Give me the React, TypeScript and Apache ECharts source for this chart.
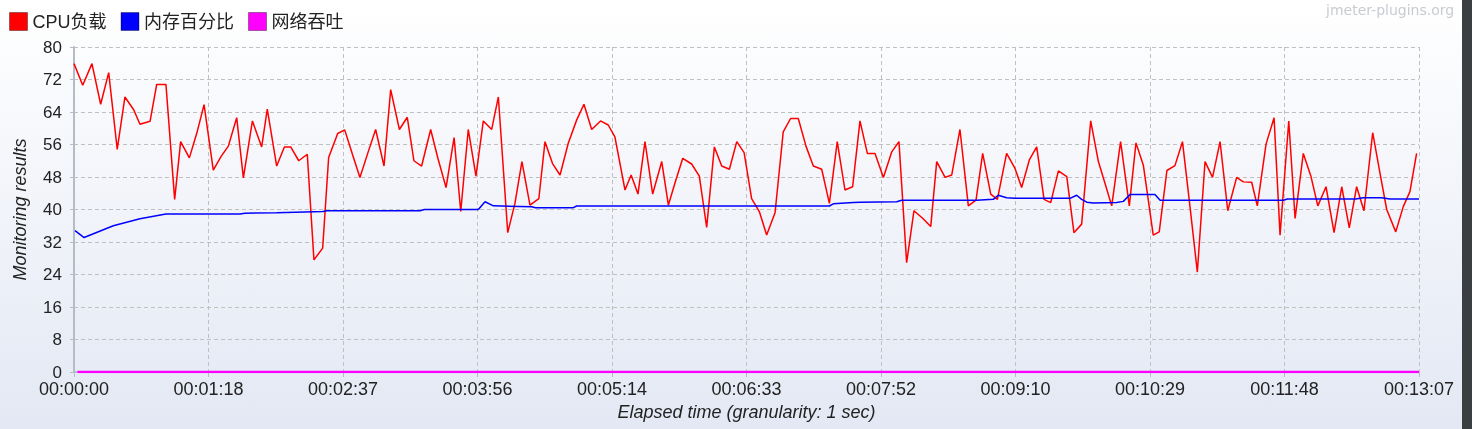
import React, { useEffect, useRef } from "react";
import * as echarts from "echarts";

const seriesNames = ["CPU负载", "内存百分比", "网络吞吐"];
const seriesColors = ["#ff0000", "#0000ff", "#ff00ff"];

const yTickMin = 0;
const yTickMax = 80;
const yTickStep = 8;
const xMaxSeconds = 787;
const xTickStep = 78.7;

const cpuTimes = [
  0, 5.1, 10.5, 15.6, 20.3, 25.3, 29.8, 35, 38.6, 44.5, 48.4, 53.8, 58.9, 62.4, 67.5, 72, 76.1, 81.5, 86, 90.3,
  95.2, 99.1, 104.4, 109.8, 113.1, 118.6, 123.1, 126.8, 131.5, 136.5, 140.4, 145.5, 149, 154.3, 158.4, 163, 167.3,
  172, 176.5, 181.4, 185.3, 190.4, 195, 198.9, 203.4, 208.7, 213, 217.7, 222.4, 226.3, 230.7, 235.2, 239.5, 244.4,
  248.3, 253.8, 258, 262.1, 266.8, 272, 275.6, 280, 284.4, 289.2, 294.1, 298.4, 302.9, 308.1, 312.6, 316.5, 322.4,
  326, 330, 334.1, 338.6, 343.9, 347.8, 352, 356.2, 361.4, 365.9, 370.2, 374.7, 379, 383.5, 387.8, 392.1, 396.5,
  401, 405.3, 410.2, 415, 419.3, 423.8, 428.3, 432.6, 437.5, 442, 446.6, 451.1, 455.6, 459.9, 464.2, 468.7, 473.6,
  478.5, 482.7, 487.2, 491.5, 496.4, 501.3, 504.8, 509.7, 513.6, 518.4, 523.3, 527.8, 531.7, 536.4, 540.3, 545.7,
  550.6, 554.5, 559, 563.3, 567.6, 571.5, 576, 580.9, 585.1, 589.6, 594.9, 599.4, 603.3, 607.2, 612.4, 617.5, 621.4,
  625.7, 631.5, 635, 639.5, 644.2, 648.6, 653, 657.3, 661.8, 666.2, 670.6, 675.1, 680.3, 684.2, 689.1, 692.4, 697.5,
  702.2, 705.7, 710.8, 714.5, 719.3, 723.8, 727.8, 732.6, 737.3, 741.8, 746.2, 750.5, 754.8, 759.9, 764.2, 768.1,
  773.4, 777.8, 781.7, 785.6,
];
const cpuValues = [
  75.9, 70.6, 75.9, 65.9, 73.7, 54.8, 67.7, 64.5, 61.0, 61.7, 70.8, 70.8, 42.5, 56.7, 52.7, 59, 65.8, 49.7, 53, 55.6,
  62.6, 47.8, 61.8, 55.4, 64.7, 50.7, 55.4, 55.4, 52.0, 53.6, 27.6, 30.5, 52.8, 58.7, 59.6, 53.5, 47.9,
  54, 59.7, 50.7, 69.5, 59.7, 62.7, 52.0, 50.7, 59.7, 52.5, 45.4, 57.7, 39.5, 59.7, 48.2, 61.8, 59.7,
  67.7, 34.3, 41.5, 51.8, 41.1, 42.7, 56.7, 51.3, 48.5, 56.3, 62.0, 65.9, 59.7, 61.8, 60.8, 57.9, 44.8,
  48.5, 43.8, 56.7, 43.8, 51.8, 41.1, 47, 52.6, 51.2, 48.2, 35.6, 55.4, 50.7, 49.9, 56.7, 54.0, 42.7,
  39.5, 33.7, 39.2, 59.1, 62.4, 62.4, 55.6, 50.7, 49.9, 41.5, 56.7, 44.8, 45.6, 61.8, 53.8, 53.8, 47.9,
  54.2, 56.7, 26.9, 39.7, 37.9, 35.8, 51.8, 47.9, 48.5, 59.7, 40.9, 42.3, 53.8, 43.8, 42.5, 53.8,
  50.1, 45.4, 52.2, 55.4, 42.5, 41.7, 49.5, 48.1, 34.3, 36.4, 61.8, 51.8, 46.4, 40.9, 56.7, 40.9, 56.4,
  50.9, 33.7, 34.5, 49.6, 50.8, 56.7, 40.7, 24.6, 51.8, 47.9, 56.7, 39.7, 47.9, 46.8, 46.7, 40.9, 56.1,
  62.6, 33.7, 61.8, 37.8, 53.8, 48.1, 40.9, 45.6, 34.3, 45.6, 35.5, 45.6, 39.7, 58.9, 48.9, 40.0,
  34.5, 40.7, 44.4, 53.8,
];

const memTimes = [
  0.6, 5.9, 23, 38.6, 53.8, 97.1, 100, 118.6, 145.7, 147.9, 202.5, 205, 236.6, 240.5, 245.4, 267.8, 270, 292.2, 294.1,
  442, 444.3, 456, 460, 481.4, 484.3, 528.2, 537.9, 540.8, 545.7, 550.6, 582.8, 586.7, 589.6, 592.6, 596.4, 610.1,
  614, 617.9, 632.5, 635.5, 707.6, 710, 750, 754.4, 765, 770, 787,
];
const memValues = [
  34.8, 33.1, 36.0, 37.7, 38.9, 38.9, 39.1, 39.2, 39.5, 39.7, 39.7, 40.0, 40.0, 41.9, 40.9, 40.7, 40.45, 40.45, 40.86,
  40.86, 41.4, 41.7, 41.8, 41.9, 42.26, 42.26, 42.5, 43.5, 42.9, 42.75, 42.75, 43.5, 42.5, 41.8, 41.6, 41.7,
  42.0, 43.7, 43.7, 42.26, 42.26, 42.6, 42.6, 42.9, 42.9, 42.6, 42.6,
];

const netTimes = [2, 54, 787];
const netValues = [0, 0, 0];

const FONT = '"Liberation Sans", "Noto Sans CJK SC", sans-serif';

function fmtTime(sec: number): string {
  const s = Math.floor(sec + 1e-6);
  const h = Math.floor(s / 3600);
  const m = Math.floor((s % 3600) / 60);
  const ss = s % 60;
  const p = (n: number) => (n < 10 ? "0" + n : "" + n);
  return p(h) + ":" + p(m) + ":" + p(ss);
}

function pairs(t: number[], v: number[]) {
  return t.map((x, i) => [x, v[i]]);
}

export default function App() {
  const ref = useRef<HTMLDivElement>(null);
  useEffect(() => {
    if (!ref.current) return;
    const chart = echarts.init(ref.current, undefined, { renderer: "svg" });
    const gridLine = { show: true, lineStyle: { color: "#c0c0c0", type: [4, 3] as any, width: 1 } };
    chart.setOption({
      animation: false,
      textStyle: { fontFamily: FONT },
      graphic: [
        {
          type: "rect",
          z: -10,
          silent: true,
          shape: { x: 0, y: 0, width: 1472, height: 429 },
          style: {
            fill: new echarts.graphic.LinearGradient(0, 0, 0, 1, [
              { offset: 0, color: "#ffffff" },
              { offset: 1, color: "#e3e8f4" },
            ]),
          },
        },
        {
          type: "rect",
          z: 10,
          silent: true,
          shape: { x: 1462, y: 0, width: 10, height: 429 },
          style: { fill: "#3c3f41" },
        },
        {
          type: "text",
          z: 10,
          x: 1326,
          y: 3,
          style: {
            text: "jmeter-plugins.org",
            font: '14px "DejaVu Sans", sans-serif',
            fill: "#c8ccd1",
          },
        },
      ],
      legend: {
        left: 9,
        top: 12,
        padding: 0,
        itemWidth: 18,
        itemHeight: 18,
        itemGap: 14,
        icon: "rect",
        itemStyle: { borderColor: "rgba(0,0,0,0.35)", borderWidth: 1 },
        textStyle: { fontSize: 18, color: "#222", fontFamily: FONT },
        data: seriesNames,
      },
      grid: { left: 74, right: 53, top: 47, bottom: 57, containLabel: false },
      xAxis: {
        type: "value",
        min: 0,
        max: xMaxSeconds,
        interval: xTickStep,
        name: "Elapsed time (granularity: 1 sec)",
        nameLocation: "middle",
        nameGap: 27,
        nameTextStyle: { fontSize: 18, fontStyle: "italic", color: "#222", fontFamily: FONT },
        axisLine: { show: true, lineStyle: { color: "#b4bcc8", width: 2 } },
        axisTick: { show: true, length: 5, lineStyle: { color: "#b4bcc8" } },
        axisLabel: {
          fontSize: 18,
          lineHeight: 16,
          color: "#222",
          margin: 9,
          fontFamily: FONT,
          formatter: (v: number) => fmtTime(v),
        },
        splitLine: gridLine,
      },
      yAxis: {
        type: "value",
        min: yTickMin,
        max: yTickMax,
        interval: yTickStep,
        name: "Monitoring results",
        nameLocation: "middle",
        nameRotate: 90,
        nameGap: 45,
        nameTextStyle: { fontSize: 18, fontStyle: "italic", color: "#222", fontFamily: FONT },
        axisLine: { show: true, lineStyle: { color: "#b4bcc8", width: 2 } },
        axisTick: { show: true, length: 4, lineStyle: { color: "#b4bcc8" } },
        axisLabel: { fontSize: 17, lineHeight: 14, color: "#222", margin: 12, fontFamily: FONT },
        splitLine: gridLine,
      },
      series: [
        {
          name: seriesNames[0],
          type: "line",
          showSymbol: false,
          symbol: "none",
          color: seriesColors[0],
          lineStyle: { color: seriesColors[0], width: 1.5 },
          data: pairs(cpuTimes, cpuValues),
        },
        {
          name: seriesNames[1],
          type: "line",
          showSymbol: false,
          symbol: "none",
          color: seriesColors[1],
          lineStyle: { color: seriesColors[1], width: 1.5 },
          data: pairs(memTimes, memValues),
        },
        {
          name: seriesNames[2],
          type: "line",
          showSymbol: false,
          symbol: "none",
          color: seriesColors[2],
          lineStyle: { color: seriesColors[2], width: 2.5 },
          data: pairs(netTimes, netValues),
        },
      ],
    });
    return () => chart.dispose();
  }, []);
  return (
    <div
      ref={ref}
      style={{ position: "fixed", left: 0, top: 0, width: 1472, height: 429 }}
    />
  );
}
